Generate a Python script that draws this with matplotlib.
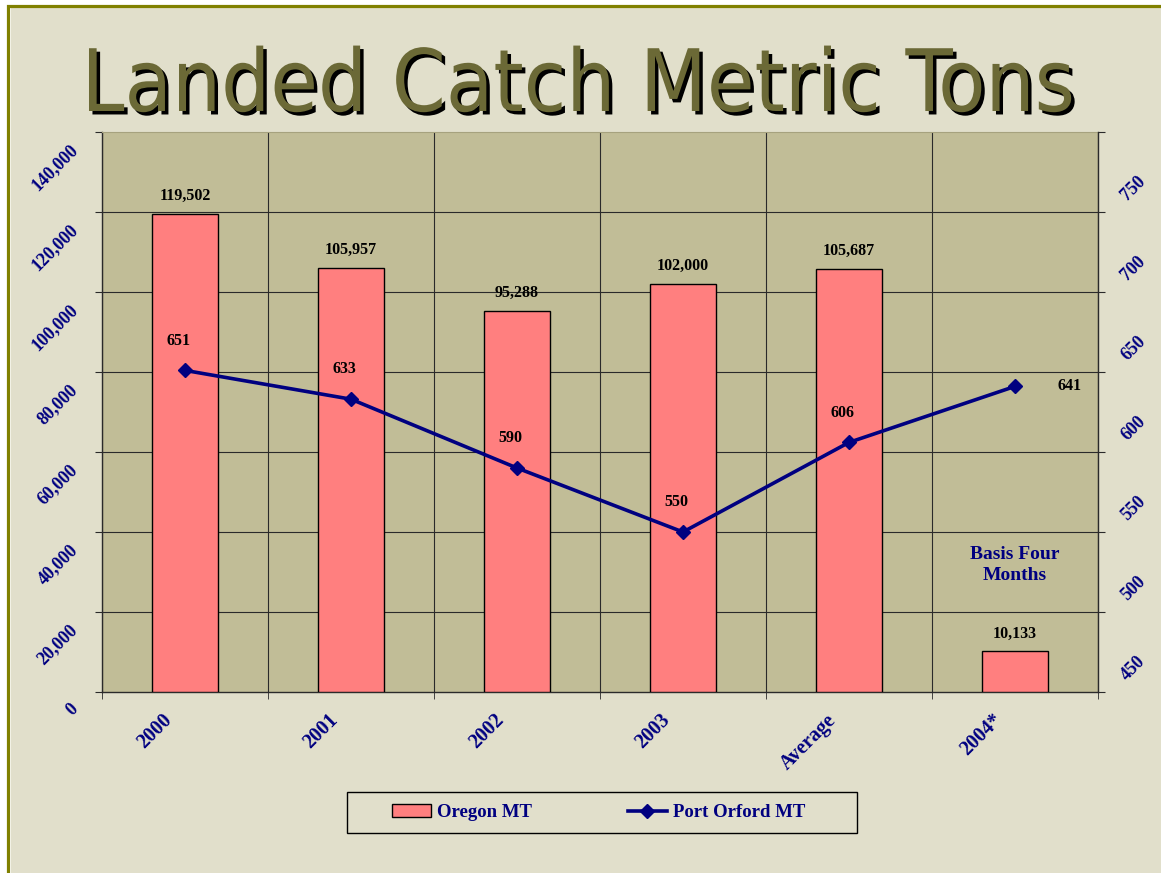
import matplotlib
matplotlib.use("Agg")
import matplotlib.pyplot as plt
import matplotlib.patheffects as pe
import matplotlib.font_manager as fm
from matplotlib.patches import Rectangle
from matplotlib.lines import Line2D
from matplotlib.transforms import ScaledTranslation
import numpy as np

# ---- data ----
categories = ["2000", "2001", "2002", "2003", "Average", "2004*"]
oregon_mt = [119502, 105957, 95288, 102000, 105687, 10133]
port_orford_mt = [651, 633, 590, 550, 606, 641]
left_ticks = [0, 20000, 40000, 60000, 80000, 100000, 120000, 140000]
right_ticks = [450, 500, 550, 600, 650, 700, 750, 800]
right_labels = ["450", "500", "550", "600", "650", "700", "750", ""]
title = "Landed Catch Metric Tons"
note = "Basis Four\nMonths"

W, H = 1161, 873
DPI = 100
navy = "#000080"
bg = "#E1DFCB"
plot_bg = "#C1BD97"
bar_color = "#FF7F7F"
serif = ["Liberation Serif", "DejaVu Serif"]

fig = plt.figure(figsize=(W / DPI, H / DPI), dpi=DPI, facecolor="white")

def px(x, y):
    return x / W, 1 - y / H

# slide background and frame
fig.patches.append(Rectangle(px(11, H + 50), 2, (H + 50 - 8) / H, transform=fig.transFigure,
                             facecolor=bg, edgecolor="none", zorder=-10))
fig.patches.append(Rectangle(px(8, H + 50), 2, (H + 50 - 5.5) / H, transform=fig.transFigure,
                             facecolor="none", edgecolor="#808000", lw=2.3, zorder=-9))

# axes
x0, y0 = px(102, 692)
x1, y1 = px(1098, 132)
ax = fig.add_axes([x0, y0, x1 - x0, y1 - y0])
ax.set_facecolor(plot_bg)
xpos = np.arange(len(categories))
bars = ax.bar(xpos, oregon_mt, width=0.4, color=bar_color, edgecolor="black", lw=1.0, zorder=3)
ax.set_xlim(-0.5, len(categories) - 0.5)
ax.set_ylim(left_ticks[0], left_ticks[-1])
ax.set_yticks(left_ticks)
ax.set_yticklabels([f"{v:,}" for v in left_ticks])
for v in left_ticks[1:-1]:
    ax.axhline(v, color="#2a2a2a", lw=0.8, zorder=1)
ax.set_xticks(xpos)
ax.set_xticklabels(categories)
ax.set_xticks(np.arange(-0.5, len(categories)), minor=True)
ax.grid(which="minor", axis="x", color="#2a2a2a", lw=0.8, zorder=1)
ax.tick_params(axis="x", which="major", length=0, pad=5)
ax.tick_params(axis="x", which="minor", length=5, direction="out", color="#2a2a2a")
ax.tick_params(axis="y", length=5, direction="out", pad=0, color="#2a2a2a")
for s in ["left", "bottom"]:
    ax.spines[s].set_color("#2a2a2a")
    ax.spines[s].set_linewidth(1.0)
ax.spines["right"].set_visible(False)
ax.spines["top"].set_color("#A6A27E")
ax.spines["top"].set_linewidth(0.8)
ax.set_axisbelow(True)

ytick_font = fm.FontProperties(family=serif, weight="bold", size=13)
xtick_font = fm.FontProperties(family=serif, weight="bold", size=14.5)
for lab in ax.get_xticklabels():
    lab.set_fontproperties(xtick_font)
    lab.set_color(navy)
    lab.set_rotation(45)
    lab.set_rotation_mode("anchor")
    lab.set_ha("right")
    lab.set_va("center")
    lab.set_transform(lab.get_transform() + ScaledTranslation(-16 / DPI, -18 / DPI, fig.dpi_scale_trans))
for lab in ax.get_yticklabels():
    lab.set_fontproperties(ytick_font)
    lab.set_color(navy)
    lab.set_rotation(45)
    lab.set_rotation_mode("anchor")
    lab.set_ha("right")
    lab.set_va("center")
    lab.set_transform(lab.get_transform() + ScaledTranslation(-20 / DPI, -15 / DPI, fig.dpi_scale_trans))

# bar value labels
for b, v in zip(bars, oregon_mt):
    ax.annotate(f"{v:,}", (b.get_x() + b.get_width() / 2, v), xytext=(0, 13),
                textcoords="offset points", ha="center", va="center",
                family=serif, weight="bold", size=11.5, color="black", zorder=5)

ax.text(xpos[-1], 31750, note, ha="center", va="center", family=serif, weight="bold",
        size=14, color=navy, linespacing=1.25)

# right axis line
ax2 = ax.twinx()
ax2.set_ylim(right_ticks[0], right_ticks[-1])
ax2.set_yticks(right_ticks)
ax2.set_yticklabels(right_labels)
ax2.plot(xpos, port_orford_mt, color=navy, lw=2.6, marker="D", ms=7.5, zorder=6)
for s in ["left", "top", "bottom"]:
    ax2.spines[s].set_visible(False)
ax2.spines["right"].set_color("#2a2a2a")
ax2.spines["right"].set_linewidth(1.0)
ax2.tick_params(axis="y", length=5, direction="out", pad=0, color="#2a2a2a")
for lab in ax2.get_yticklabels():
    lab.set_fontproperties(ytick_font)
    lab.set_color(navy)
    lab.set_rotation(45)
    lab.set_rotation_mode("anchor")
    lab.set_ha("left")
    lab.set_va("center")
    lab.set_transform(lab.get_transform() + ScaledTranslation(19 / DPI, 14 / DPI, fig.dpi_scale_trans))

for i, (xv, v) in enumerate(zip(xpos, port_orford_mt)):
    if i == len(port_orford_mt) - 1:
        off = (39, 0)
    else:
        off = (-4.5, 21.5)
    ax2.annotate(f"{v}", (xv, v), xytext=off, textcoords="offset points", ha="center", va="center",
                 family=serif, weight="bold", size=11.5, color="black", zorder=7)

# title (prefer a condensed humanist sans if present)
cond = [f.fname for f in fm.fontManager.ttflist
        if "DejaVuSansCondensed.ttf" in f.fname.replace("\\", "/").split("/")[-1]]
if cond:
    title_fp = fm.FontProperties(fname=cond[0], size=62)
else:
    title_fp = fm.FontProperties(family="DejaVu Sans", size=55)
fig.text(*px(578, 111), title, ha="center", va="baseline", fontproperties=title_fp,
         color="#6B6936",
         path_effects=[pe.SimplePatchShadow(offset=(2.5, -2.5), shadow_rgbFace="black", alpha=1.0),
                       pe.Normal()])

# legend
fig.patches.append(Rectangle(px(347, 833), 510 / W, 41 / H, transform=fig.transFigure,
                             facecolor="none", edgecolor="black", lw=1.0))
handles = [Rectangle((0, 0), 1, 1, facecolor=bar_color, edgecolor="black", lw=1.0),
           Line2D([], [], color=navy, lw=2.6, marker="D", ms=7.5)]
leg = fig.legend(handles, ["Oregon MT", "Port Orford MT"], loc="center",
                 bbox_to_anchor=px(598.5, 812.5), ncol=2, frameon=False,
                 prop=dict(family=serif, weight="bold", size=13.5),
                 handlelength=2.1, handleheight=0.7, handletextpad=0.3, columnspacing=5.1)
for t in leg.get_texts():
    t.set_color(navy)

fig.savefig("out.png", dpi=DPI, facecolor=fig.get_facecolor())
